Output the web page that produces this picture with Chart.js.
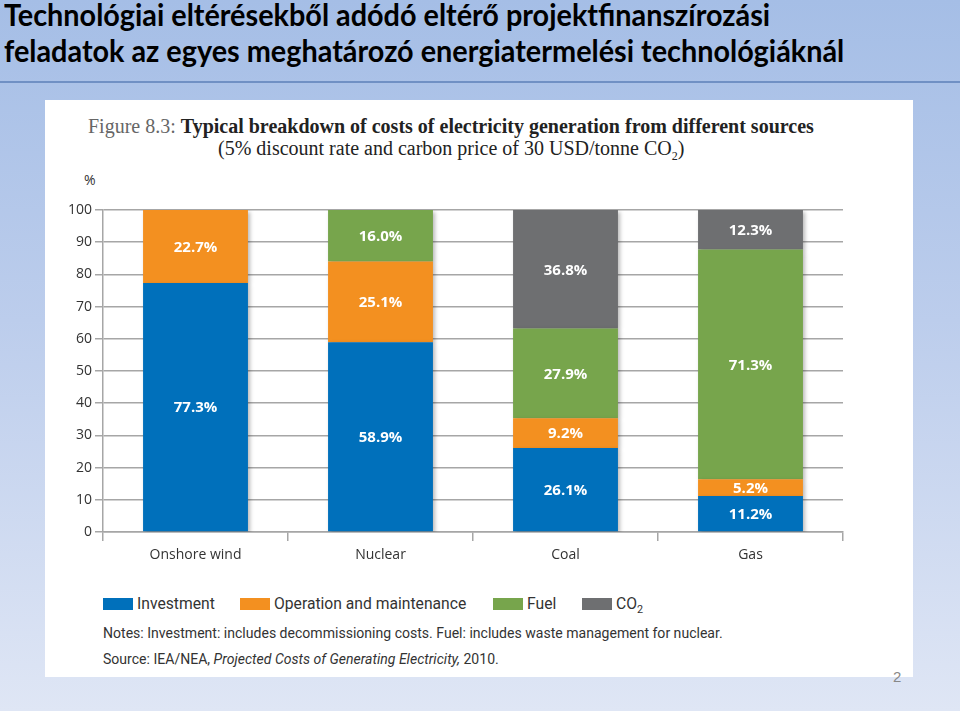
<!DOCTYPE html>
<html>
<head>
<meta charset="utf-8">
<script src="https://cdn.jsdelivr.net/npm/chart.js@4.4.1/dist/chart.umd.min.js"></script>
<style>
  html, body { margin: 0; padding: 0; }
  body {
    width: 960px; height: 711px; position: relative; overflow: hidden;
    background: linear-gradient(to bottom, #a5bee6 0%, #bccdec 45%, #dfe6f5 100%);
    font-family: Roboto, sans-serif;
  }
  .sor { position: absolute; white-space: nowrap; transform-origin: 0 50%; }
  .cim { left: 4px; font-family: Lato, sans-serif; font-weight: bold; font-size: 31px; line-height: 35px; color: #000; }
  #vonal { position: absolute; left: 0; top: 81px; width: 960px; height: 2px; background: #7090c4; }
  #panel { position: absolute; left: 45px; top: 100px; width: 868px; height: 577px; background: #fff; }
  #figcim {
    position: absolute; left: 43px; top: 15px; width: 820px;
    font-family: "Liberation Serif", "DejaVu Serif", serif; font-size: 20px; line-height: 22px; color: #222;
  }
  #figcim .fig { color: #666; }
  #figcim .b { font-weight: bold; }
  #figcim .l2 { padding-left: 130px; }
  #szazalek { position: absolute; left: 39px; top: 70px; font-family: "Open Sans", sans-serif; font-size: 14px; color: #333; }
  #grafikon { position: absolute; left: 0; top: 60px; }
  .jm { position: absolute; top: 494px; font-size: 16px; color: #333; white-space: nowrap; }
  .jm i { position: absolute; left: 0; top: 4px; width: 30px; height: 12px; }
  .jm span { position: absolute; left: 34px; top: 0; transform-origin: 0 50%; }
  .megj { left: 58px; font-size: 15px; color: #333; }
  #oldal { position: absolute; left: 893px; top: 668px; font-family: "Liberation Sans", sans-serif; font-size: 15px; color: #888; }
</style>
</head>
<body>
<div id="cim1" class="sor cim" style="top:-3px">Technológiai eltérésekből adódó eltérő projektfinanszírozási</div>
<div id="cim2" class="sor cim" style="top:33px">feladatok az egyes meghatározó energiatermelési technológiáknál</div>
<div id="vonal"></div>
<div id="panel">
  <div id="figcim"><span class="fig">Figure 8.3: </span><span class="b">Typical breakdown of costs of electricity generation from different sources</span><br><span class="l2">(5% discount rate and carbon price of 30 USD/tonne CO<sub style="font-size:12px">2</sub>)</span></div>
  <div id="szazalek">%</div>
  <canvas id="grafikon" width="868" height="410"></canvas>
  <div id="megj" class="sor megj" style="top:524px">Notes: Investment: includes decommissioning costs. Fuel: includes waste management for nuclear.</div>
  <div id="forras" class="sor megj" style="top:550px">Source: IEA/NEA, <i>Projected Costs of Generating Electricity,</i> 2010.</div>
</div>
<div id="oldal">2</div>
<script>
const kategoriak = ['Onshore wind', 'Nuclear', 'Coal', 'Gas'];
const sorozatNevek = ['Investment', 'Operation and maintenance', 'Fuel', 'CO₂'];
const beruhazas = [77.3, 58.9, 26.1, 11.2];
const uzemeltetes = [22.7, 25.1, 9.2, 5.2];
const uzemanyag = [0, 16.0, 27.9, 71.3];
const szen = [0, 0, 36.8, 12.3];
const yTickek = [0, 10, 20, 30, 40, 50, 60, 70, 80, 90, 100];
const szinek = ['#0070bb', '#f39020', '#77a54c', '#6e6f71'];

const sorozatok = [beruhazas, uzemeltetes, uzemanyag, szen];

// szoveg vizszintes osszenyomasa adott szelessegre
function illeszt(el, szelesseg) {
    const s = szelesseg / el.scrollWidth;
    el.style.transform = 'scaleX(' + s + ')';
    return s;
}
const cimArany = illeszt(document.getElementById('cim1'), 766);
document.getElementById('cim2').style.transform = 'scaleX(' + cimArany + ')';
const megjArany = illeszt(document.getElementById('megj'), 620);
document.getElementById('forras').style.transform = 'scaleX(' + megjArany + ')';

// jelmagyarazat
const jmHelyek = [58, 195, 448, 537];
const panel = document.getElementById('panel');
let jmArany = 1;
sorozatNevek.forEach(function (nev, i) {
    const el = document.createElement('div');
    el.className = 'jm';
    el.style.left = jmHelyek[i] + 'px';
    const nevHtml = nev === 'CO₂' ? 'CO<sub style="font-size:11px">2</sub>' : nev;
    el.innerHTML = '<i style="background:' + szinek[i] + '"></i><span>' + nevHtml + '</span>';
    panel.appendChild(el);
    if (i === 1) jmArany = illeszt(el.querySelector('span'), 192);
});
document.querySelectorAll('.jm span').forEach(function (sp) {
    sp.style.transform = 'scaleX(' + jmArany + ')';
});

const cimkek = {
    id: 'cimkek',
    beforeDatasetsDraw(chart) {
        const ctx = chart.ctx;
        ctx.save();
        ctx.shadowColor = 'rgba(0,0,0,0.28)';
        ctx.shadowBlur = 4;
        ctx.shadowOffsetX = 2;
        ctx.shadowOffsetY = 2;
    },
    afterDatasetsDraw(chart) {
        const ctx = chart.ctx;
        ctx.restore();
        ctx.save();
        ctx.fillStyle = '#fff';
        ctx.font = 'bold 15px "Open Sans", sans-serif';
        ctx.textAlign = 'center';
        ctx.textBaseline = 'middle';
        chart.data.datasets.forEach(function (ds, i) {
            chart.getDatasetMeta(i).data.forEach(function (el, j) {
                const v = ds.data[j];
                if (!v) return;
                ctx.fillText(v.toFixed(1) + '%', el.x, (el.y + el.base) / 2 + 1);
            });
        });
        ctx.restore();
    }
};

new Chart(document.getElementById('grafikon'), {
    type: 'bar',
    data: {
        labels: kategoriak,
        datasets: sorozatok.map(function (adat, i) {
            return {
                label: sorozatNevek[i],
                data: adat,
                backgroundColor: szinek[i],
                borderWidth: 0,
                categoryPercentage: 1,
                barPercentage: 0.567
            };
        })
    },
    options: {
        responsive: false,
        animation: false,
        layout: { padding: { top: 50, right: 70, left: 0, bottom: 0 } },
        plugins: {
            legend: { display: false },
            tooltip: { enabled: false }
        },
        scales: {
            x: {
                stacked: true,
                afterFit(scale) { scale.height = 38; },
                grid: { drawOnChartArea: false, color: '#a6a6a6', lineWidth: 1.5, tickLength: 9 },
                border: { color: '#a6a6a6', width: 1.5 },
                ticks: { color: '#333', padding: 6, font: { family: '"Open Sans", sans-serif', size: 14 } }
            },
            y: {
                stacked: true,
                min: 0,
                max: 100,
                afterFit(scale) { scale.width = 58; },
                afterBuildTicks(scale) { scale.ticks = yTickek.map(function (v) { return { value: v }; }); },
                grid: { color: '#a6a6a6', lineWidth: 1.5, tickLength: 8 },
                border: { color: '#a6a6a6', width: 1.5 },
                ticks: { color: '#333', padding: 3, font: { family: '"Open Sans", sans-serif', size: 14 } }
            }
        }
    },
    plugins: [cimkek]
});
</script>
</body>
</html>
